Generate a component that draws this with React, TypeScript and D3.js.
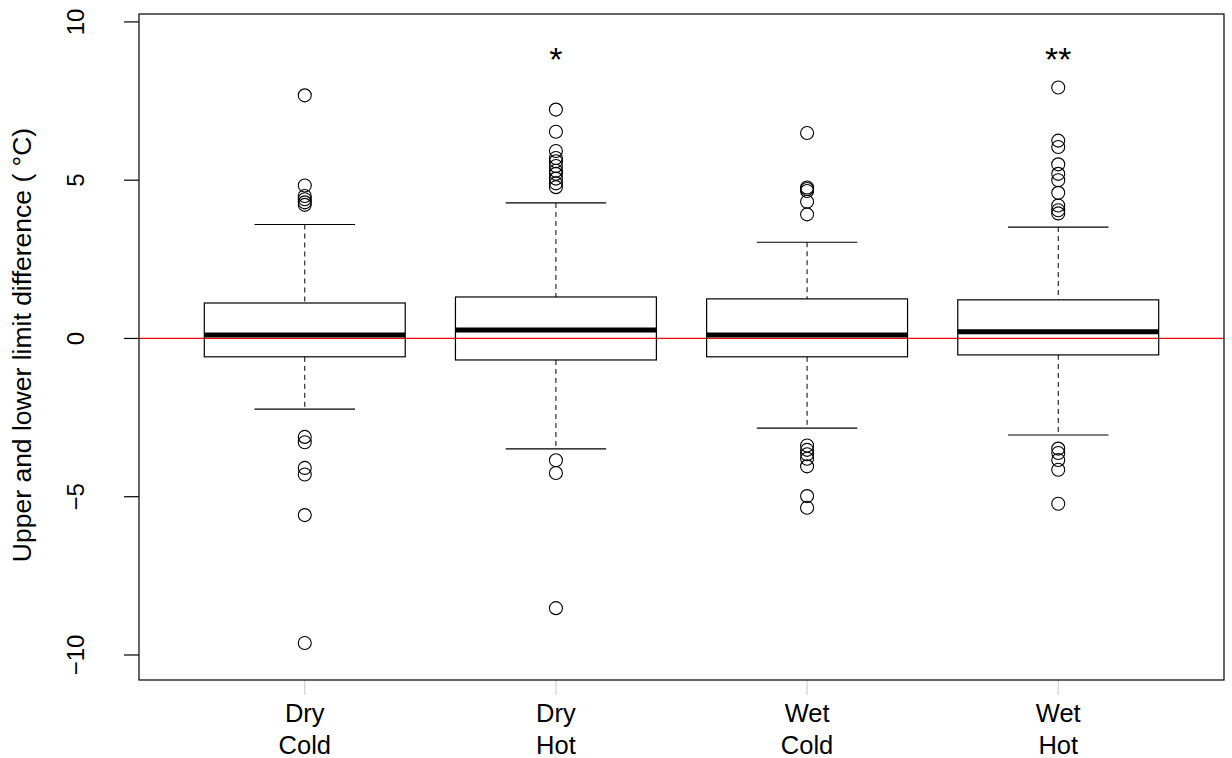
import React from "react";
import * as d3 from "d3";

const categories = ["Dry\nCold", "Dry\nHot", "Wet\nCold", "Wet\nHot"];
// five-number summaries: whisker low, Q1, median, Q3, whisker high
const whiskerLow = [-2.23, -3.49, -2.83, -3.05];
const q1 = [-0.58, -0.68, -0.58, -0.52];
const medians = [0.11, 0.27, 0.11, 0.21];
const q3 = [1.12, 1.31, 1.25, 1.22];
const whiskerHigh = [3.6, 4.28, 3.04, 3.52];
const outliersDryCold = [7.68, 4.83, 4.5, 4.4, 4.3, 4.22, -3.11, -3.28, -4.09, -4.3, -5.58, -9.62];
const outliersDryHot = [7.23, 6.53, 5.92, 5.7, 5.6, 5.45, 5.3, 5.2, 5.05, 4.9, 4.78, -3.85, -4.25, -8.52];
const outliersWetCold = [6.49, 4.77, 4.72, 4.66, 4.32, 3.92, -3.38, -3.52, -3.66, -3.8, -4.04, -4.98, -5.35];
const outliersWetHot = [7.93, 6.25, 6.05, 5.5, 5.2, 5.0, 4.6, 4.2, 4.05, 3.95, -3.48, -3.62, -3.84, -4.15, -5.22];
const outliers = [outliersDryCold, outliersDryHot, outliersWetCold, outliersWetHot];
const significance = ["", "*", "", "**"];
const yTicks = [-10, -5, 0, 5, 10];
const yLabel = "Upper and lower limit difference ( °C)";

export default function App() {
  const W = 1232, H = 758;
  const left = 139, right = 1224, top = 14, bottom = 680;
  const x = d3.scaleLinear().domain([0.34, 4.66]).range([left, right]);
  const y = d3.scaleLinear().domain([-10.79, 10.25]).range([bottom, top]);
  const bw = x(1.4) - x(0.6);
  const font = "'Liberation Sans', Arial, sans-serif";

  return (
    <svg width={W} height={H} style={{ position: "fixed", top: 0, left: 0, background: "#fff" }} fontFamily={font}>
      <rect x={0} y={0} width={W} height={H} fill="#fff" />
      {/* red reference line */}
      <line x1={left} x2={right} y1={y(0)} y2={y(0)} stroke="#ff0000" strokeWidth={1.2} />
      {categories.map((c, i) => {
        const cx = x(i + 1);
        return (
          <g key={c}>
            <line x1={cx} x2={cx} y1={y(whiskerHigh[i])} y2={y(q3[i])} stroke="#000" strokeDasharray="5,4" strokeWidth={1} />
            <line x1={cx} x2={cx} y1={y(q1[i])} y2={y(whiskerLow[i])} stroke="#000" strokeDasharray="5,4" strokeWidth={1} />
            <line x1={cx - bw / 4} x2={cx + bw / 4} y1={y(whiskerHigh[i])} y2={y(whiskerHigh[i])} stroke="#000" strokeWidth={1.2} />
            <line x1={cx - bw / 4} x2={cx + bw / 4} y1={y(whiskerLow[i])} y2={y(whiskerLow[i])} stroke="#000" strokeWidth={1.2} />
            <rect x={cx - bw / 2} y={y(q3[i])} width={bw} height={y(q1[i]) - y(q3[i])} fill="none" stroke="#000" strokeWidth={1.2} />
            <line x1={cx - bw / 2} x2={cx + bw / 2} y1={y(medians[i])} y2={y(medians[i])} stroke="#000" strokeWidth={5} />
            {outliers[i].map((v, j) => (
              <circle key={j} cx={cx} cy={y(v)} r={6.5} fill="none" stroke="#000" strokeWidth={1.1} />
            ))}
            {significance[i] && (
              <text x={cx} y={y(8.45)} textAnchor="middle" fontSize={34} fill="#000">{significance[i]}</text>
            )}
            <line x1={cx} x2={cx} y1={bottom} y2={bottom + 15} stroke="#bbb" strokeWidth={0.8} />
            {c.split("\n").map((t, k) => (
              <text key={k} x={cx} y={722 + k * 32} textAnchor="middle" fontSize={25.5} fill="#000">{t}</text>
            ))}
          </g>
        );
      })}
      {/* plot frame */}
      <rect x={left} y={top} width={right - left} height={bottom - top} fill="none" stroke="#000" strokeWidth={1.2} />
      {/* y axis */}
      {yTicks.map((t) => (
        <g key={t}>
          <line x1={left - 15} x2={left} y1={y(t)} y2={y(t)} stroke="#000" strokeWidth={1.2} />
          <text transform={`translate(${84},${y(t)}) rotate(-90)`} textAnchor="middle" fontSize={24} fill="#000">
            {t < 0 ? `\u2212${Math.abs(t)}` : t}
          </text>
        </g>
      ))}
      <text transform={`translate(${31},${345}) rotate(-90)`} textAnchor="middle" fontSize={26.5} fill="#000">{yLabel}</text>
    </svg>
  );
}
